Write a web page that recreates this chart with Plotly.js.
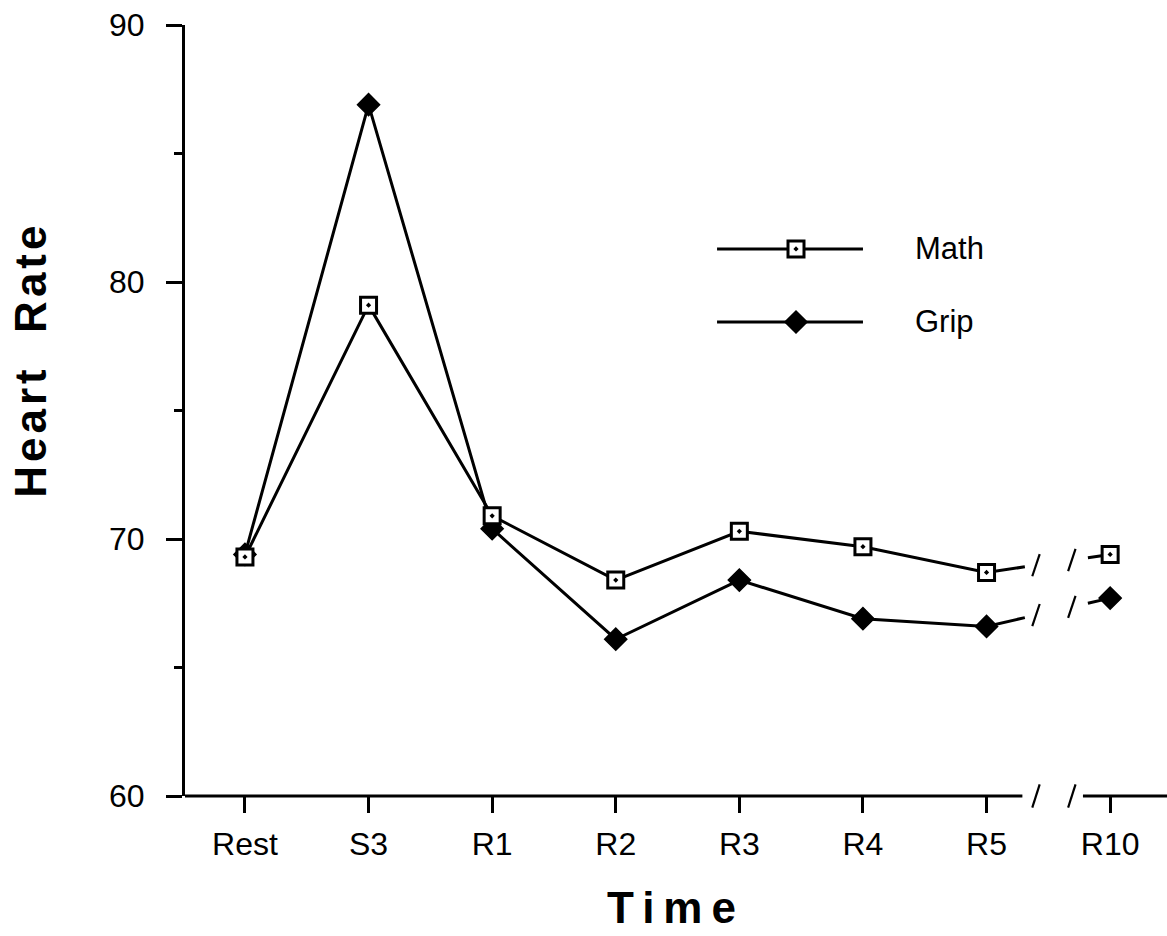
<!DOCTYPE html>
<html>
<head>
<meta charset="utf-8">
<script src="https://cdn.plot.ly/plotly-3.0.1.min.js"></script>
<style>
  html, body { margin: 0; padding: 0; background: #fff; }
  #chart { width: 1167px; height: 936px; }
  .xtitle { letter-spacing: 9px; }
</style>
</head>
<body>
<div id="chart"></div>
<script>
// ---- data ----
var categories = ["Rest", "S3", "R1", "R2", "R3", "R4", "R5", "R10"];
var mathHR = [69.3, 79.1, 70.9, 68.4, 70.3, 69.7, 68.7, 69.4];
var gripHR = [69.4, 86.9, 70.4, 66.1, 68.4, 66.9, 66.6, 67.7];
var yTicks = [60, 70, 80, 90];

// ---- helpers ----
var FONT = "Liberation Sans, Arial, Helvetica, sans-serif";
var idx = categories.map(function (c, i) { return i; });
var nMain = categories.length - 1;          // last category sits after an axis break
var stubA = nMain - 1 + 0.31;                // end of line leaving R5
var stubB = nMain - 1 + 0.82;                // start of line entering R10
var slashPos = [nMain - 1 + 0.40, nMain - 1 + 0.69];

function interp(vals, x) {
  var i = Math.floor(x), t = x - i;
  return vals[i] + (vals[i + 1] - vals[i]) * t;
}
function brokenLine(vals) {
  var xs = idx.slice(0, nMain), ys = vals.slice(0, nMain);
  xs.push(stubA, null, stubB, nMain);
  ys.push(interp(vals, stubA), null, interp(vals, stubB), vals[nMain]);
  return { x: xs, y: ys };
}

var mLine = brokenLine(mathHR), gLine = brokenLine(gripHR);
var lineStyle = { color: "#000", width: 3 };
var squareMarker = { symbol: "square-dot", size: 16, color: "#fff", line: { color: "#000", width: 3 } };
var diamondMarker = { symbol: "diamond", size: 17, color: "#000", line: { color: "#000", width: 1.5 } };

var traces = [
  { x: mLine.x, y: mLine.y, mode: "lines", line: lineStyle, connectgaps: false, showlegend: false, hoverinfo: "skip" },
  { x: gLine.x, y: gLine.y, mode: "lines", line: lineStyle, connectgaps: false, showlegend: false, hoverinfo: "skip" },
  { x: idx, y: gripHR, mode: "markers", marker: diamondMarker, name: "Grip", showlegend: false },
  { x: idx, y: mathHR, mode: "markers", marker: squareMarker, name: "Math", showlegend: false },
  // hand-drawn legend samples on an overlay paper-like axis
  { x: [0.5418, 0.6904], y: [0.7095, 0.7095], xaxis: "x2", yaxis: "y2", mode: "lines", line: lineStyle, showlegend: false, hoverinfo: "skip" },
  { x: [0.6222], y: [0.7095], xaxis: "x2", yaxis: "y2", mode: "markers", marker: squareMarker, showlegend: false, hoverinfo: "skip" },
  { x: [0.5418, 0.6904], y: [0.6148, 0.6148], xaxis: "x2", yaxis: "y2", mode: "lines", line: lineStyle, showlegend: false, hoverinfo: "skip" },
  { x: [0.6222], y: [0.6148], xaxis: "x2", yaxis: "y2", mode: "markers", marker: diamondMarker, showlegend: false, hoverinfo: "skip" }
];

// ---- break marks ----
var shapes = [];
var slashLine = { color: "#000", width: 2.2 };
// x axis drawn in two pieces
shapes.push({ type: "line", xref: "x", yref: "paper", x0: -0.485, x1: stubA - 0.02, y0: 0, y1: 0, line: { color: "#000", width: 3 } });
shapes.push({ type: "line", xref: "x", yref: "paper", x0: stubB - 0.04, x1: 7.46, y0: 0, y1: 0, line: { color: "#000", width: 3 } });
slashPos.forEach(function (sx) {
  shapes.push({ type: "line", xref: "x", yref: "paper", x0: sx - 0.03, x1: sx + 0.03, y0: -0.015, y1: 0.015, line: slashLine });
  [mathHR, gripHR].forEach(function (vals) {
    var cy = interp(vals, sx);
    shapes.push({ type: "line", xref: "x", yref: "y", x0: sx - 0.03, x1: sx + 0.03, y0: cy - 0.43, y1: cy + 0.43, line: slashLine });
  });
});

var layout = {
  width: 1167, height: 936,
  margin: { l: 185, r: 0, t: 25, b: 140 },
  paper_bgcolor: "#fff", plot_bgcolor: "#fff",
  font: { family: FONT, color: "#000", size: 32 },
  showlegend: false,
  xaxis: {
    range: [-0.485, 7.46], showgrid: false, zeroline: false, showline: false,
    tickmode: "array", tickvals: idx, ticktext: categories,
    ticks: "outside", ticklen: 16, tickwidth: 3, tickcolor: "#000",
    tickfont: { family: FONT, size: 32, color: "#000" },
    ticklabelstandoff: 4,
    title: { text: "Time", font: { family: FONT, size: 44, weight: "bold", color: "#000" }, standoff: 30 },
    fixedrange: true
  },
  yaxis: {
    range: [60, 90], showgrid: false, zeroline: false,
    showline: true, linecolor: "#000", linewidth: 3,
    tickmode: "array", tickvals: yTicks,
    ticks: "outside", ticklen: 16, tickwidth: 3, tickcolor: "#000",
    minor: { dtick: 5, ticks: "outside", ticklen: 8, tickwidth: 3, tickcolor: "#000" },
    tickfont: { family: FONT, size: 32, color: "#000" },
    ticklabelstandoff: 15,
    fixedrange: true
  },
  xaxis2: { overlaying: "x", range: [0, 1], visible: false, fixedrange: true },
  yaxis2: { overlaying: "y", range: [0, 1], visible: false, fixedrange: true },
  shapes: shapes,
  annotations: [
    { xref: "paper", yref: "paper", x: -0.157, y: 0.5655, xanchor: "center", yanchor: "middle", textangle: -90,
      text: "<span style=\"letter-spacing:4px\">Heart\u00a0\u00a0Rate</span>", showarrow: false,
      font: { family: FONT, size: 44, weight: "bold", color: "#000" } },
    { xref: "paper", yref: "paper", x: 0.7413, y: 0.7095, xanchor: "left", yanchor: "middle", text: "Math", showarrow: false, font: { family: FONT, size: 31, color: "#000" } },
    { xref: "paper", yref: "paper", x: 0.7413, y: 0.6148, xanchor: "left", yanchor: "middle", text: "Grip", showarrow: false, font: { family: FONT, size: 31, color: "#000" } }
  ]
};

Plotly.newPlot("chart", traces, layout, { staticPlot: true, displayModeBar: false });
</script>
</body>
</html>
